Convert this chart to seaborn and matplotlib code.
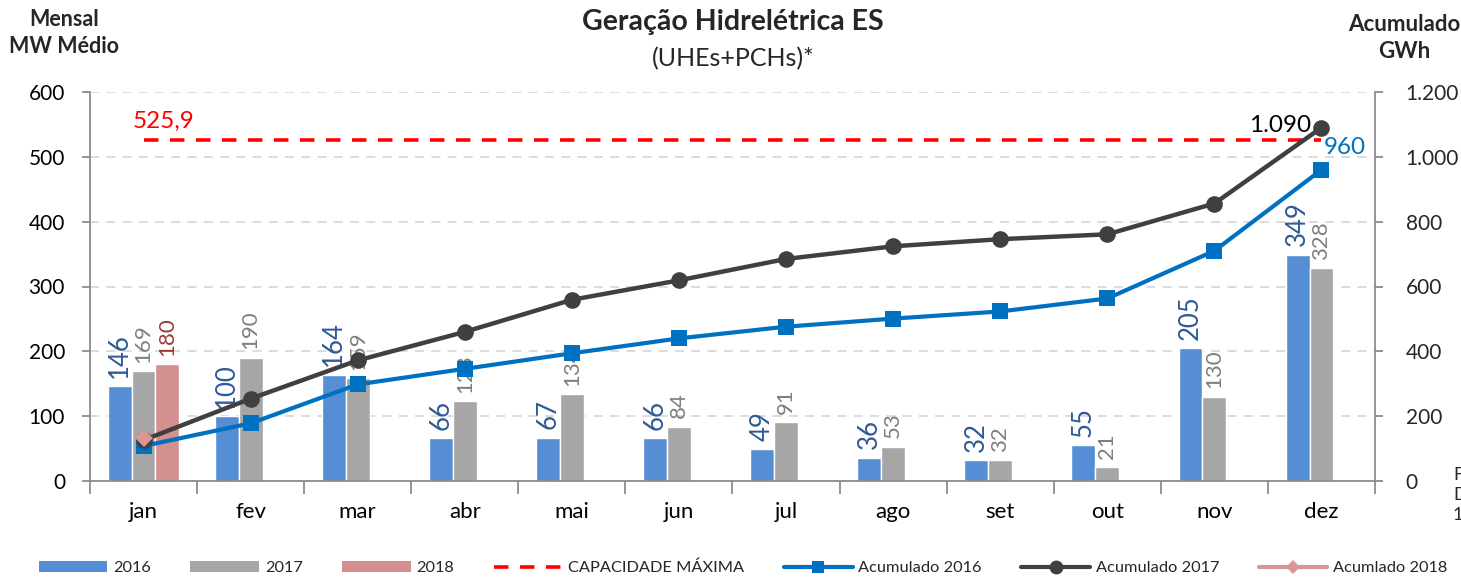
import numpy as np
import pandas as pd
import matplotlib
matplotlib.use("Agg")
import matplotlib.pyplot as plt
import seaborn as sns
from matplotlib.lines import Line2D
from matplotlib.patches import Patch
from matplotlib.ticker import FixedLocator

# ---------------- data ----------------
months = ["jan", "fev", "mar", "abr", "mai", "jun", "jul", "ago", "set", "out", "nov", "dez"]
mw_2016 = [146, 100, 164, 66, 67, 66, 49, 36, 32, 55, 205, 349]
mw_2017 = [169, 190, 159, 123, 134, 84, 91, 53, 32, 21, 130, 328]
mw_2018 = [180]
acc_2016 = [108, 178, 298, 346, 394, 440, 476, 501, 523, 563, 710, 960]
acc_2017 = [126, 254, 372, 460, 559, 619, 685, 724, 746, 761, 856, 1090]
acc_2018 = [134]
capacidade = 525.9
left_ticks = [0, 100, 200, 300, 400, 500, 600]
right_ticks = [0, 200, 400, 600, 800, 1000, 1200]
right_ticklabels = ["0", "200", "400", "600", "800", "1.000", "1.200"]
years = ["2016", "2017", "2018"]

# ---------------- style ----------------
sns.set_theme(style="white")
plt.rcParams["font.family"] = ["Lato", "DejaVu Sans"]

c_2016 = "#558ED5"
c_2017 = "#A6A6A6"
c_2018 = "#D4908E"
lab_2016 = "#2F5A96"
lab_2017 = "#7F7F7F"
lab_2018 = "#9B3B38"
c_acc16 = "#0070C0"
c_acc17 = "#404040"
c_acc18 = "#D99694"
c_cap = "#FF0000"
spine_c = "#8C8C8C"

fig = plt.figure(figsize=(14.61, 5.78), dpi=100)
ax = fig.add_axes([90 / 1461, 1 - 481 / 578, (1375 - 90) / 1461, (481 - 92) / 578])

rows = []
for m, v in zip(months, mw_2016):
    rows.append((m, "2016", v))
for m, v in zip(months, mw_2017):
    rows.append((m, "2017", v))
for m, v in zip(months, mw_2018):
    rows.append((m, "2018", v))
df = pd.DataFrame(rows, columns=["mes", "ano", "valor"])

sns.barplot(data=df, x="mes", y="valor", hue="ano", order=months, hue_order=years,
            palette=[c_2016, c_2017, c_2018], width=0.67, saturation=1,
            legend=False, ax=ax, zorder=2)

label_styles = [(lab_2016, 18.5), (lab_2017, 16), (lab_2018, 16)]
for cont, (col, fs) in zip(ax.containers, label_styles):
    ax.bar_label(cont, fmt="%d", rotation=90, padding=6, color=col, fontsize=fs)

# capacity line
xpos = np.arange(len(months))
sns.lineplot(x=xpos, y=np.full(len(months), capacidade), ax=ax, color=c_cap,
             linewidth=2.6, linestyle=(0, (4, 3.2)), zorder=3)
ax.text(0.19, capacidade + 12, f"{capacidade}".replace(".", ","), color=c_cap,
        fontsize=17.5, ha="center", va="bottom")

ax.set_xlim(-0.5, 11.5)
ax.set_ylim(0, 600)
ax.yaxis.set_major_locator(FixedLocator(left_ticks))
ax.grid(axis="y", color="#D9D9D9", linestyle=(0, (5, 4)), linewidth=1.3, zorder=0)
ax.set_axisbelow(True)
ax.set_xlabel("")
ax.set_ylabel("")
for s in ["top", "right"]:
    ax.spines[s].set_visible(False)
for s in ["left", "bottom"]:
    ax.spines[s].set_color(spine_c)
    ax.spines[s].set_linewidth(1.3)
ax.tick_params(axis="y", which="major", direction="out", length=6, width=1.3,
               color=spine_c, labelsize=15, pad=12, labelcolor="black", left=True)
ax.set_xticks(xpos)
ax.set_xticklabels(months)
ax.set_xticks(np.arange(-0.5, 12, 1), minor=True)
ax.tick_params(axis="x", which="major", length=0, labelsize=16, pad=15, labelcolor="black")
ax.tick_params(axis="x", which="minor", direction="out", length=9, width=1.3,
               color=spine_c, bottom=True)

# cumulative on right axis
ax2 = ax.twinx()
sns.lineplot(x=xpos, y=acc_2016, ax=ax2, color=c_acc16, linewidth=3, marker="s",
             markersize=11, markeredgewidth=0, zorder=4)
sns.lineplot(x=xpos, y=acc_2017, ax=ax2, color=c_acc17, linewidth=3.2, marker="o",
             markersize=12, markeredgewidth=0, zorder=5)
sns.lineplot(x=xpos[:len(acc_2018)], y=acc_2018, ax=ax2, color=c_acc18, linewidth=3,
             marker="D", markersize=9, markeredgewidth=0, zorder=6)
ax2.set_ylim(0, 1200)
ax2.set_xlim(-0.5, 11.5)
ax2.yaxis.set_major_locator(FixedLocator(right_ticks))
ax2.set_yticklabels(right_ticklabels)
ax2.grid(False)
for s in ["top", "left", "bottom"]:
    ax2.spines[s].set_visible(False)
ax2.spines["right"].set_color(spine_c)
ax2.spines["right"].set_linewidth(1.3)
ax2.tick_params(axis="y", direction="out", length=6, width=1.3, color=spine_c,
                labelsize=15, pad=16, right=True)
ax2.set_ylabel("")

ax2.text(xpos[-1] - 0.1, acc_2017[-1] + 6, f"{acc_2017[-1]:,}".replace(",", "."),
         color="black", fontsize=17.5, ha="right", va="center")
ax2.text(xpos[-1] + 0.02, acc_2016[-1] + 68, f"{acc_2016[-1]}", color=c_acc16,
         fontsize=17.5, ha="left", va="center")

# titles
fig.text(733 / 1461, 1 - 22 / 578, "Geração Hidrelétrica ES", fontsize=20.5,
         fontweight="bold", ha="center", va="center")
fig.text(733 / 1461, 1 - 59 / 578, "(UHEs+PCHs)*", fontsize=18, ha="center", va="center")
fig.text(64 / 1461, 1 - 33 / 578, "Mensal\nMW Médio", fontsize=15.5, fontweight="bold",
         ha="center", va="center", linespacing=1.3)
fig.text(1404 / 1461, 1 - 38 / 578, "Acumulado\nGWh", fontsize=16, fontweight="bold",
         ha="center", va="center", linespacing=1.3)
fig.text(1453 / 1461, 1 - 495 / 578, "F\nD\n1", fontsize=13, ha="left", va="center",
         linespacing=1.3)

# legend
handles = [
    Patch(facecolor=c_2016, edgecolor="none"),
    Patch(facecolor=c_2017, edgecolor="none"),
    Patch(facecolor=c_2018, edgecolor="none"),
    Line2D([], [], color=c_cap, linewidth=2.6, linestyle=(0, (4, 3.2))),
    Line2D([], [], color=c_acc16, linewidth=3, marker="s", markersize=9, markeredgewidth=0),
    Line2D([], [], color=c_acc17, linewidth=3, marker="o", markersize=10, markeredgewidth=0),
    Line2D([], [], color=c_acc18, linewidth=3, marker="D", markersize=7, markeredgewidth=0),
]
labels = ["2016", "2017", "2018", "CAPACIDADE MÁXIMA", "Acumulado 2016",
          "Acumulado 2017", "Acumlado 2018"]
fig.legend(handles, labels, loc="center", bbox_to_anchor=(743 / 1461, 1 - 568 / 578), ncol=7,
           frameon=False, fontsize=11.8, handlelength=4.2, handleheight=0.7,
           columnspacing=2.4, handletextpad=0.35, numpoints=1)

fig.savefig("out.png", dpi=100)
